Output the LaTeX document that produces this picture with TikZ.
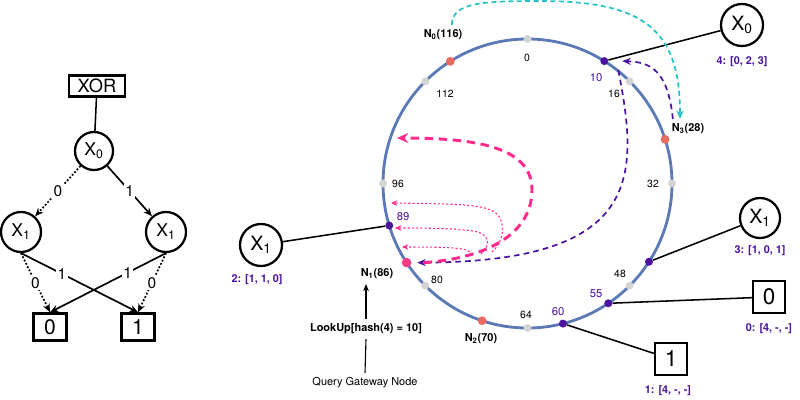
\documentclass[tikz,border=0pt]{standalone}
\usepackage{fontspec}
\setmainfont{TeX Gyre Heros}
\usepackage{tikz}
\usetikzlibrary{calc,arrows.meta}
\definecolor{ink}{HTML}{000000}
\definecolor{ringc}{HTML}{5A79B5}
\definecolor{tickc}{HTML}{D4D4D4}
\definecolor{srvc}{HTML}{E96A5F}
\definecolor{gate}{HTML}{F83D86}
\definecolor{key}{HTML}{4A129E}
\definecolor{hop}{HTML}{FF2A8C}
\definecolor{fwd}{HTML}{22C3C6}
\tikzset{
  ring/.style={draw=ringc, line width=2pt},
  tickdot/.style={circle, fill=tickc, inner sep=0pt, minimum size=2mm},
  srv/.style={circle, fill=srvc, inner sep=0pt, minimum size=2.2mm},
  gw/.style={circle, fill=gate, inner sep=0pt, minimum size=2.4mm},
  keyd/.style={circle, fill=key, inner sep=0pt, minimum size=2mm},
  var/.style={circle, draw=ink, line width=1.6pt, inner sep=0pt},
  term/.style={rectangle, draw=ink, line width=1.6pt, inner sep=0pt},
  wire/.style={draw=ink, line width=1.1pt},
  hi/.style={draw=ink, line width=1.2pt, -{Stealth[length=6pt,width=5pt]}},
  lo/.style={hi, dash pattern=on 1.3pt off 1.3pt},
  el/.style={fill=white, inner sep=1pt, font=\fontsize{11}{11}\selectfont},
  num/.style={font=\fontsize{7.4}{8}\selectfont},
  numk/.style={text=key, font=\fontsize{8}{9}\selectfont},
  lab/.style={font=\bfseries\fontsize{7.8}{9}\selectfont},
  labk/.style={text=key, font=\bfseries\fontsize{7.7}{9}\selectfont},
  note/.style={font=\fontsize{7.8}{9}\selectfont},
  fwdarr/.style={draw=fwd, line width=1.2pt, dash pattern=on 3.5pt off 2.5pt, -{Stealth[length=6pt,width=5pt]}},
  keyarr/.style={draw=key, line width=1.2pt, dash pattern=on 4pt off 3pt, -{Stealth[length=6pt,width=5pt]}},
  hoparr/.style={draw=hop, line width=2.1pt, dash pattern=on 6pt off 4pt, -{Stealth[length=8pt,width=7pt]}},
  tryarr/.style={draw=hop, line width=0.75pt, dash pattern=on 1.5pt off 1.5pt, -{Stealth[length=4.5pt,width=4pt]}},
}
\begin{document}
\begin{tikzpicture}[x=0.025cm, y=-0.025cm]
  \useasboundingbox (0,0) rectangle (800,400);

  % the XOR diagram
  \node[term, minimum width=1.4cm, minimum height=0.53cm, font=\fontsize{13}{13}\selectfont] (xor) at (97,86) {XOR};
  \node[var, minimum size=0.95cm, font=\fontsize{12.5}{12}\selectfont] (bx0) at (94,151) {X\textsubscript{0}};
  \node[var, minimum size=1cm, font=\fontsize{12.5}{12}\selectfont] (bx1a) at (21,232) {X\textsubscript{1}};
  \node[var, minimum size=1cm, font=\fontsize{12.5}{12}\selectfont] (bx1b) at (166,232) {X\textsubscript{1}};
  \node[term, minimum width=0.83cm, minimum height=0.68cm, font=\fontsize{15}{15}\selectfont] (bb0) at (50,327) {0};
  \node[term, minimum width=0.83cm, minimum height=0.68cm, font=\fontsize{15}{15}\selectfont] (bb1) at (138,327) {1};

  \draw[wire] (xor) -- (bx0);
  \draw[lo] (bx0) -- node[el] {0} (bx1a);
  \draw[hi] (bx0) -- node[el] {1} (bx1b);
  \draw[lo] (bx1a.south) -- node[el] {0} (bb0.north);
  \draw[hi] (bx1a.south) -- node[el, pos=0.35] {1} (bb1.north);
  \draw[hi] (bx1b.south) -- node[el, pos=0.33] {1} (bb0.north);
  \draw[lo] (bx1b.south) -- node[el] {0} (bb1.north);

  % the ring
  \def\r{144.5}
  \coordinate (c) at (527.5,183.5);
  \draw[ring] (c) circle (\r);

  \node[tickdot] (t0) at ($(c)+(-90:\r)$) {};
  \node[tickdot] (t16) at ($(c)+(-45:\r)$) {};
  \node[tickdot] (t32) at ($(c)+(0:\r)$) {};
  \node[tickdot] (t48) at ($(c)+(45:\r)$) {};
  \node[tickdot] (t64) at ($(c)+(90:\r)$) {};
  \node[tickdot] (t80) at ($(c)+(135:\r)$) {};
  \node[tickdot] (t96) at ($(c)+(180:\r)$) {};
  \node[tickdot] (t112) at ($(c)+(225:\r)$) {};
  \node[num] (t0l) at (527,58) {0};
  \node[num] (t16l) at (614,94) {16};
  \node[num] (t32l) at (653,184) {32};
  \node[num] (t48l) at (620,274) {48};
  \node[num] (t64l) at (526,315) {64};
  \node[num] (t80l) at (437,280) {80};
  \node[num] (t96l) at (398,184) {96};
  \node[num] (t112l) at (445,94) {112};

  \node[srv] (n0) at ($(c)+(237.7:\r)$) {};
  \node[srv] (n3) at ($(c)+(-17.8:\r)$) {};
  \node[srv] (n2) at ($(c)+(108.3:\r)$) {};
  \node[gw] (n1) at ($(c)+(146.8:\r)$) {};
  \node[lab] (n0lab) at (443,35) {N\textsubscript{0}(116)};
  \node[lab] (n3lab) at (688,129) {N\textsubscript{3}(28)};
  \node[lab] (n2lab) at (481,339) {N\textsubscript{2}(70)};
  \node[lab] (n1lab) at (377,274) {N\textsubscript{1}(86)};

  \node[keyd] (p10) at ($(c)+(-57.9:\r)$) {};
  \node[keyd] (p44) at ($(c)+(32.8:\r)$) {};
  \node[keyd] (p55) at ($(c)+(56:\r)$) {};
  \node[keyd] (p60) at ($(c)+(75.8:\r)$) {};
  \node[keyd] (p89) at ($(c)+(163.1:\r)$) {};
  \node[numk] (p10l) at (596,78) {10};
  \node[numk] (p55l) at (596,294) {55};
  \node[numk] (p60l) at (558,312) {60};
  \node[numk] (p89l) at (403,217) {89};

  % stored nodes
  \node[var, minimum size=1.05cm, font=\fontsize{14}{14}\selectfont] (x0r) at (742,25) {X\textsubscript{0}};
  \node[var, minimum size=1cm, font=\fontsize{14}{14}\selectfont] (x1r) at (760,218) {X\textsubscript{1}};
  \node[term, minimum size=0.8cm, font=\fontsize{16}{16}\selectfont] (b0r) at (769,297) {0};
  \node[term, minimum size=0.8cm, font=\fontsize{16}{16}\selectfont] (b1r) at (671,359) {1};
  \node[var, minimum size=1.05cm, font=\fontsize{14}{14}\selectfont] (x1l) at (261,245) {X\textsubscript{1}};
  \node[labk] (d4) at (742,62) {4: [0, 2, 3]};
  \node[labk] (d3) at (760,251) {3: [1, 0, 1]};
  \node[labk] (d0) at (769,329) {0: [4, -, -]};
  \node[labk] (d1) at (668,391) {1: [4, -, -]};
  \node[labk] (d2) at (257,280) {2: [1, 1, 0]};

  \draw[wire] (p10) -- (x0r);
  \draw[wire] (p44) -- (x1r);
  \draw[wire] (p55) -- (b0r);
  \draw[wire] (p60) -- (b1r);
  \draw[wire] (x1l) -- (p89);

  % the query
  \node[lab] (look) at (366,329) {LookUp[hash(4) = 10]};
  \node[note] (query) at (365,383) {Query Gateway Node};
  \draw[line width=0.8pt] (query.north) -- (look.south);
  \draw[line width=0.8pt, -{Stealth[length=5pt,width=4pt]}] (look.north) -- (look.north |- n1lab.south);

  % routing
  \coordinate (hop1) at (397,138);
  \coordinate (try1) at (391,203);
  \coordinate (try2) at (395,228);
  \coordinate (try3) at (402,247);
  \draw[fwdarr] ([xshift=2.2mm]n0lab.north) .. controls (452,3) and (480,1) .. (540,1)
    .. controls (645,1) and (680,30) .. ([xshift=-2mm]n3lab.north);
  \draw[keyarr] ([xshift=1.5mm]n3lab.north west) .. controls (668,70) and (650,62) .. ([xshift=4.5mm]p10.center);
  \draw[keyarr] ([shift={(14,9)}]p10.center) .. controls (640,180) and (640,262) .. ([xshift=1.4mm]n1.east);
  \draw[tryarr] (492,252) .. controls (503,242) and (506,226) .. (498,215)
    .. controls (488,204) and (460,204) .. (try1);
  \draw[tryarr] (481,254) .. controls (490,246) and (490,236) .. (478,232)
    .. controls (465,229) and (440,228) .. (try2);
  \draw[tryarr] (470,256) .. controls (472,249) and (466,247) .. (try3);
  \draw[hoparr] ([xshift=3mm]n1.east) .. controls (490,258) and (532,232) .. (532,190)
    .. controls (532,150) and (485,138) .. (hop1);
\end{tikzpicture}
\end{document}
